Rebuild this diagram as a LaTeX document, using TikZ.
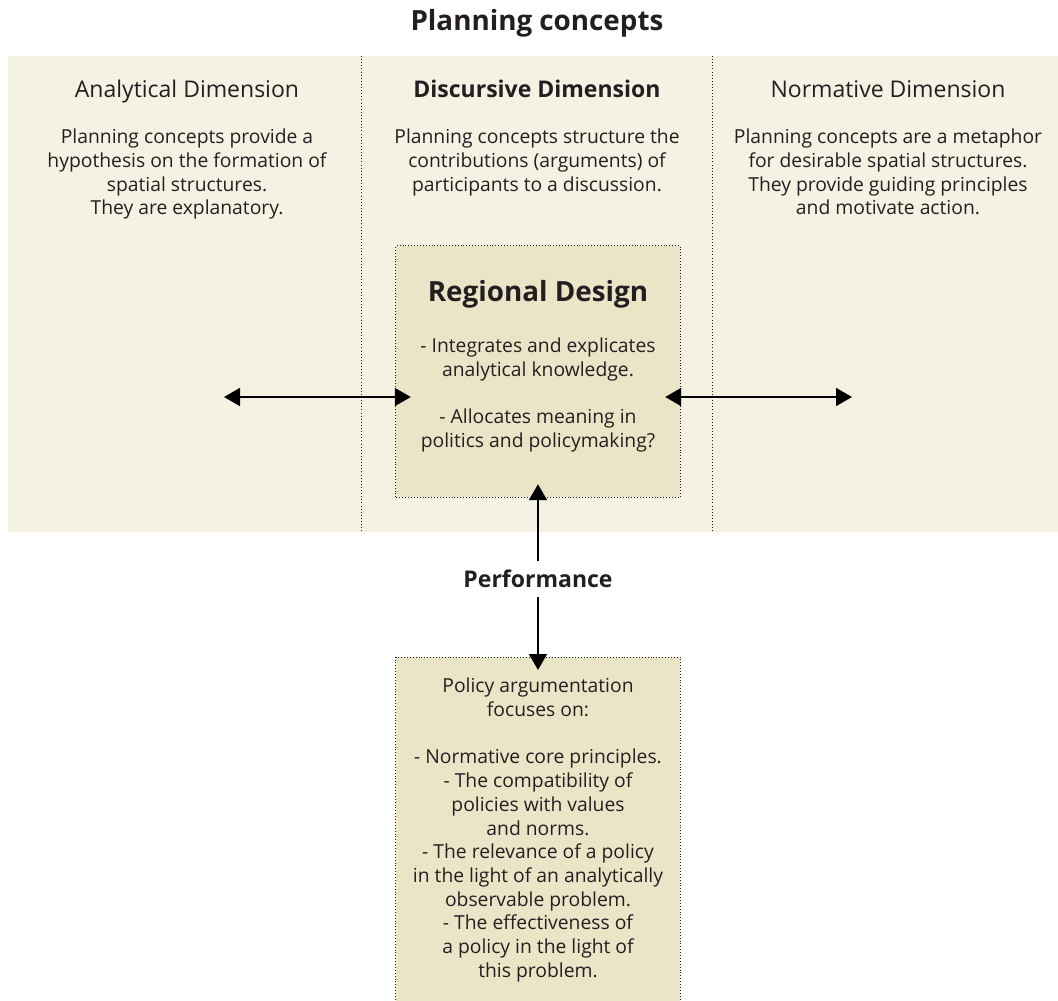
\documentclass[tikz,border=0pt]{standalone}
\usepackage{fontspec}
\setmainfont{Open Sans}
\usetikzlibrary{arrows.meta,positioning,calc}
\definecolor{PCream}{HTML}{F5F1E3}
\definecolor{PSand}{HTML}{EBE5C8}
\definecolor{PInk}{HTML}{231F20}
\tikzset{
    body/.style = {align=center, text=PInk, inner sep=0pt,
        font=\fontsize{19.3}{23.7}\selectfont},
    header/.style = {align=center, text=PInk, inner sep=0pt,
        font=\fontsize{23}{26}\selectfont},
    heading/.style = {align=center, text=PInk, inner sep=0pt,
        font=\fontsize{27.8}{32}\selectfont\bfseries},
    box/.style = {fill=PSand, minimum width=284pt},
    frame/.style = {draw=PInk, line width=0.9pt, dash pattern=on 0.9pt off 2pt},
    divider/.style = {draw=PInk, line width=0.9pt, dash pattern=on 0.9pt off 2.2pt},
    twoway/.style = {draw, line width=1.6pt, {Triangle[length=16pt,width=18pt]}-{Triangle[length=16pt,width=18pt]}},
    oneway/.style = {draw, line width=1.6pt, -{Triangle[length=16pt,width=18pt]}}
}

\begin{document}
\begin{tikzpicture}[x=1pt,y=-1pt]
    \clip (0,0) rectangle (1058,1001);
    % panel with the three dimensions
    \fill[PCream] (8,56) rectangle (1058,532);
    \draw[divider] (361,56) -- (361,532);
    \draw[divider] (712,56) -- (712,532);
    \node[heading] (title) at (537,23) {Planning concepts};

    \node[header, anchor=base] (analytical) at (187,97.5) {Analytical Dimension};
    \node[header, anchor=base] (discursive) at (537,97.5) {\bfseries Discursive Dimension};
    \node[header, anchor=base] (normative) at (888,97.5) {Normative Dimension};

    \node[body, anchor=north] (analyticaltext) at (187,129) {Planning concepts provide a\\hypothesis on the formation of\\spatial structures.\\They are explanatory.};
    \node[body, anchor=north] (discursivetext) at (537,129) {Planning concepts structure the\\contributions (arguments) of\\participants to a discussion.};
    \node[body, anchor=north] (normativetext) at (888,129) {Planning concepts are a metaphor\\for desirable spatial structures.\\They provide guiding principles\\and motivate action.};

    % regional design
    \node[box, minimum height=251pt] (rd) at (538,371.5) {};
    \draw[frame] (rd.south west) rectangle (rd.north east);
    \node[heading, anchor=base] (rdtitle) at ($(rd.north)+(0,56)$) {Regional Design};
    \node[body, anchor=north] (rdtext) at ($(rd.north)+(0,92)$) {- Integrates and explicates\\analytical knowledge.\\[23.7pt]- Allocates meaning in\\politics and policymaking?};

    \coordinate (analyticalend) at (224,397);
    \coordinate (normativeend) at (852,397);
    \draw[twoway] (analyticalend) -- ($(rd.west |- analyticalend)+(15,0)$);
    \draw[twoway] ($(rd.east |- normativeend)+(-15,0)$) -- (normativeend);

    % performance and policy argumentation
    \node[header, minimum height=36pt] (perf) at (538,579) {\bfseries Performance};
    \node[box, minimum height=380pt, anchor=north] (policy) at (538,657) {};
    \draw[frame] (policy.south west) -- (policy.north west) -- (policy.north east) -- (policy.south east);
    \node[body, anchor=north] (policytext) at ($(policy.north)+(0,21)$) {Policy argumentation\\focuses on:\\[23.7pt]- Normative core principles.\\- The compatibility of\\policies with values\\and norms.\\- The relevance of a policy\\in the light of an analytically\\observable problem.\\- The effectiveness of\\a policy in the light of\\this problem.};

    \draw[oneway] (perf.north) -- ($(rd.south)+(0,-13)$);
    \draw[oneway] (perf.south) -- ($(policy.north)+(0,13)$);
\end{tikzpicture}
\end{document}
